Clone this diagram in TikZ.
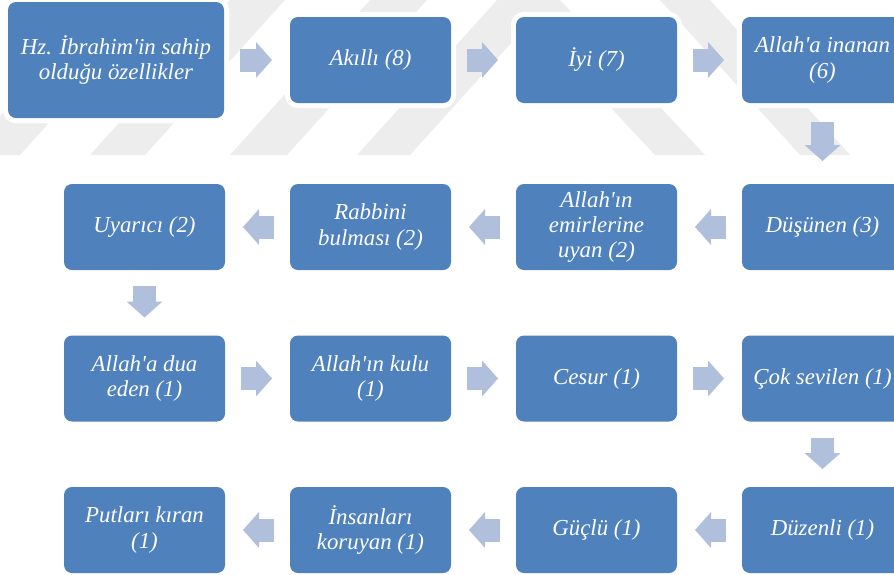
\documentclass[tikz,border=0pt]{standalone}
\usepackage{fontspec}
\setmainfont{Liberation Serif}
\usetikzlibrary{arrows.meta}
\definecolor{boxblue}{RGB}{79,129,189}
\definecolor{arrowblue}{RGB}{176,192,220}
\definecolor{markgray}{RGB}{237,237,237}
\newcommand\apos{\textquotesingle}

\begin{document}
\begin{tikzpicture}[node distance=4.52cm]
    \tikzstyle{box} = [rectangle, fill=boxblue, text=white, align=center,
                       minimum width=3.22cm, minimum height=1.72cm, rounded corners=0.16cm,
                       inner sep=0pt, outer sep=0pt, font=\fontsize{13}{14.3}\selectfont\itshape,
                       preaction={draw=white, line width=0.2cm}]
    \tikzstyle{flow} = [line width=0.46cm, draw=arrowblue, shorten <=0.32cm, shorten >=0.36cm,
                        -{Triangle[length=0.32cm, width=0.72cm, line width=0pt]}]
    \useasboundingbox (0,0) rectangle (17.88,-11.48);
  % faint watermark behind the first row
  \fill[markgray] (2.10,0) -- (3.20,0) -- (0.40,-3.10) -- (-0.70,-3.10) -- cycle;
  \fill[markgray] (4.60,0) -- (5.70,0) -- (2.90,-3.10) -- (1.80,-3.10) -- cycle;
  \fill[markgray] (7.40,0) -- (8.54,0) -- (5.74,-3.10) -- (4.60,-3.10) -- cycle;
  \fill[markgray] (9.94,0) -- (11.00,0) -- (8.20,-3.10) -- (7.14,-3.10) -- cycle;
  \fill[markgray] (10.20,0) -- (11.20,0) -- (14.10,-3.10) -- (13.10,-3.10) -- cycle;
  \fill[markgray] (13.20,0) -- (14.20,0) -- (17.00,-3.10) -- (16.00,-3.10) -- cycle;
  % boxes
  \node[box, minimum width=4.32cm, minimum height=2.32cm](hz) at (2.32,-1.2){Hz. İbrahim\apos in sahip\\olduğu özellikler};
  \node[box, right of=hz, xshift=0.57cm](akilli){Akıllı (8)};
  \node[box, right of=akilli](iyi){İyi (7)};
  \node[box, right of=iyi](inanan){Allah\apos a inanan\\(6)};
  \node[box, below of=inanan, yshift=1.18cm](dusunen){Düşünen (3)};
  \node[box, left of=dusunen](emir){Allah\apos ın\\emirlerine\\uyan (2)};
  \node[box, left of=emir](rabbi){Rabbini\\bulması (2)};
  \node[box, left of=rabbi](uyarici){Uyarıcı (2)};
  \node[box, below of=uyarici, yshift=1.49cm](dua){Allah\apos a dua\\eden (1)};
  \node[box, right of=dua](kul){Allah\apos ın kulu\\(1)};
  \node[box, right of=kul](cesur){Cesur (1)};
  \node[box, right of=cesur](sevilen){Çok sevilen (1)};
  \node[box, below of=sevilen, yshift=1.49cm](duzenli){Düzenli (1)};
  \node[box, left of=duzenli](guclu){Güçlü (1)};
  \node[box, left of=guclu](insan){İnsanları\\koruyan (1)};
  \node[box, left of=insan](putlar){Putları kıran\\(1)};
  % block arrows
  \draw[flow] (hz) -- (akilli);
  \draw[flow] (akilli) -- (iyi);
  \draw[flow] (iyi) -- (inanan);
  \draw[flow, shorten <=0.38cm, shorten >=0.46cm] (inanan) -- (dusunen);
  \draw[flow] (dusunen) -- (emir);
  \draw[flow] (emir) -- (rabbi);
  \draw[flow] (rabbi) -- (uyarici);
  \draw[flow] (uyarici) -- (dua);
  \draw[flow] (dua) -- (kul);
  \draw[flow] (kul) -- (cesur);
  \draw[flow] (cesur) -- (sevilen);
  \draw[flow] (sevilen) -- (duzenli);
  \draw[flow] (duzenli) -- (guclu);
  \draw[flow] (guclu) -- (insan);
  \draw[flow] (insan) -- (putlar);
\end{tikzpicture}
\end{document}
